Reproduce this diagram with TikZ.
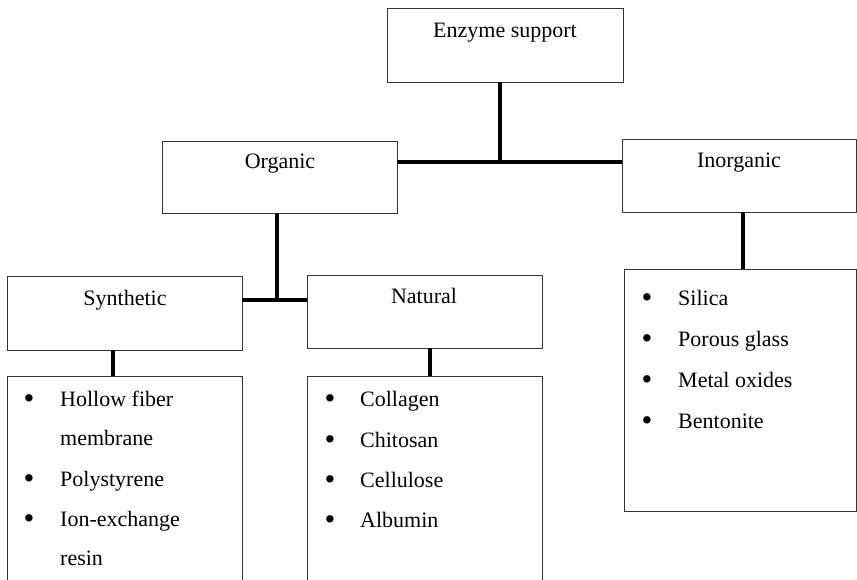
\documentclass[tikz,border=0pt]{standalone}
\usepackage{fontspec}
\setmainfont{Liberation Serif}
\begin{document}
\begin{tikzpicture}[x=1pt,y=-1pt,
  box/.style={draw=black!80, line width=0.9pt, rectangle, inner sep=0pt, fill=none},
  conn/.style={line width=4pt, black},
  lbl/.style={font=\fontsize{22}{26}\selectfont, inner sep=0pt, anchor=base},
  item/.style={font=\fontsize{22}{26}\selectfont, inner sep=0pt, anchor=base west},
  bul/.style={font=\fontsize{22}{26}\selectfont, inner sep=0pt, anchor=base, scale=1.4, yshift=-1.5pt}]
\useasboundingbox (0,0) rectangle (857,580);
\clip (0,0) rectangle (857,580);
% boxes
\node[box, minimum width=236pt, minimum height=74pt] (enz) at (505,45) {};
\node[box, minimum width=235pt, minimum height=72pt] (org) at (279.5,177) {};
\node[box, minimum width=234.5pt, minimum height=72.5pt] (inorg) at (739.25,175.75) {};
\node[box, minimum width=234.5pt, minimum height=74pt] (syn) at (124.75,313) {};
\node[box, minimum width=235pt, minimum height=73pt] (nat) at (424.5,311.5) {};
\node[box, minimum width=232.5pt, minimum height=242pt] (inlist) at (740.25,390) {};
\node[box, minimum width=234.5pt, minimum height=224pt] (synlist) at (124.75,488) {};
\node[box, minimum width=235pt, minimum height=224pt] (natlist) at (424.5,488) {};
% titles
\node[lbl] (tenz) at (505,38) {Enzyme support};
\node[lbl] (torg) at (280,169) {Organic};
\node[lbl] (tinorg) at (739,168) {Inorganic};
\node[lbl] (tsyn) at (125,305.5) {Synthetic};
\node[lbl] (tnat) at (424,303.5) {Natural};
% connectors
\coordinate (j1) at (500,162);
\coordinate (j2) at (277,300);
\draw[conn] (enz.south -| j1) -- (j1);
\draw[conn] (org.east |- j1) -- (inorg.west |- j1);
\draw[conn] (org.south -| j2) -- (j2);
\draw[conn] (syn.east |- j2) -- (nat.west |- j2);
\coordinate (j3) at (113,350);
\draw[conn] (syn.south -| j3) -- (synlist.north -| j3);
\coordinate (j4) at (430,350);
\draw[conn] (nat.south -| j4) -- (natlist.north -| j4);
\coordinate (j5) at (742.5,212);
\draw[conn] (inorg.south -| j5) -- (inlist.north -| j5);
% synthetic list
\node[bul] (sb1) at (29,406) {•};
\node[item] (s1) at (60,406) {Hollow fiber};
\node[item] (s1b) at (60,445) {membrane};
\node[bul] (sb2) at (29,486) {•};
\node[item] (s2) at (60,486) {Polystyrene};
\node[bul] (sb3) at (29,526) {•};
\node[item] (s3) at (60,526) {Ion-exchange};
\node[item] (s3b) at (60,565) {resin};
% natural list
\node[bul] (nb1) at (330,406) {•};
\node[item] (n1) at (360,406) {Collagen};
\node[bul] (nb2) at (330,447) {•};
\node[item] (n2) at (360,447) {Chitosan};
\node[bul] (nb3) at (330,487) {•};
\node[item] (n3) at (360,487) {Cellulose};
\node[bul] (nb4) at (330,527) {•};
\node[item] (n4) at (360,527) {Albumin};
% inorganic list
\node[bul] (ib1) at (647,305.5) {•};
\node[item] (i1) at (678,305.5) {Silica};
\node[bul] (ib2) at (647,346.5) {•};
\node[item] (i2) at (678,346.5) {Porous glass};
\node[bul] (ib3) at (647,387.5) {•};
\node[item] (i3) at (678,387.5) {Metal oxides};
\node[bul] (ib4) at (647,428.5) {•};
\node[item] (i4) at (678,428.5) {Bentonite};
\end{tikzpicture}
\end{document}
